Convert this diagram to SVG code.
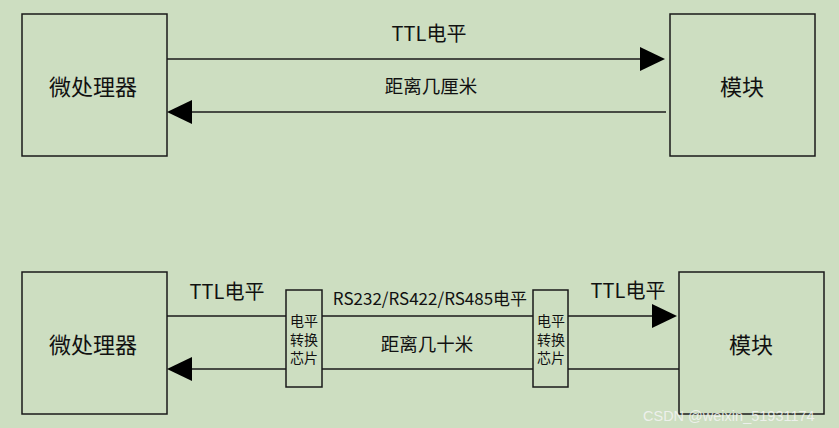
<svg xmlns="http://www.w3.org/2000/svg" width="839" height="428" viewBox="0 0 839 428">
<defs>
<style>
.box{fill:none;stroke:#1a1a1a;stroke-width:1.5}
.ln{fill:none;stroke:#1a1a1a;stroke-width:1.5}
.ah{fill:#000}
text{font-family:"Noto Sans CJK SC","Noto Sans",sans-serif;fill:#111;text-anchor:middle;dominant-baseline:central}
.big{font-size:22px}
.ttl{font-size:20px}
.lbl{font-size:18.5px}
.rs{font-size:17px}
.chip{font-size:14px}
.wm{font-family:"Liberation Sans",sans-serif;font-size:14.5px;fill:#f4f4f4;fill-opacity:0.85;text-anchor:start}
</style>
</defs>
<rect width="839" height="428" fill="#cddec1"/>
<g id="mcu1"><rect class="box" x="22" y="14" width="145" height="142"/><text class="big" x="93" y="85">微处理器</text></g>
<g id="mod1"><rect class="box" x="670" y="14" width="145" height="142"/><text class="big" x="742" y="85">模块</text></g>
<g id="mcu2"><rect class="box" x="22" y="272" width="145" height="142"/><text class="big" x="93" y="343">微处理器</text></g>
<g id="mod2"><rect class="box" x="679" y="272" width="145" height="142"/><text class="big" x="751" y="343">模块</text></g>
<g id="chip1"><rect class="box" x="286" y="290" width="36" height="97"/><text class="chip" x="304" y="320">电平<tspan x="304" dy="18.5">转换</tspan><tspan x="304" dy="18.5">芯片</tspan></text></g>
<g id="chip2"><rect class="box" x="533" y="290" width="35" height="97"/><text class="chip" x="551" y="320">电平<tspan x="551" dy="18.5">转换</tspan><tspan x="551" dy="18.5">芯片</tspan></text></g>
<g id="connectors">
<line class="ln" x1="167" y1="59" x2="642" y2="59"/><polygon class="ah" points="640,47 665,59 640,71"/>
<line class="ln" x1="190" y1="112" x2="666" y2="112"/><polygon class="ah" points="192,100 167,112 192,124"/>
<line class="ln" x1="167" y1="316" x2="286" y2="316"/>
<line class="ln" x1="322" y1="316" x2="533" y2="316"/>
<line class="ln" x1="568" y1="316" x2="655" y2="316"/><polygon class="ah" points="652,304 677,316 652,328"/>
<line class="ln" x1="190" y1="369" x2="286" y2="369"/><polygon class="ah" points="192,357 167,369 192,381"/>
<line class="ln" x1="322" y1="369" x2="533" y2="369"/>
<line class="ln" x1="568" y1="369" x2="679" y2="369"/>
</g>
<g id="labels">
<text class="ttl" x="429" y="32">TTL电平</text>
<text class="lbl" x="431" y="85">距离几厘米</text>
<text class="ttl" x="227" y="290">TTL电平</text>
<text class="rs" x="430" y="297">RS232/RS422/RS485电平</text>
<text class="lbl" x="427" y="343">距离几十米</text>
<text class="ttl" x="628" y="289">TTL电平</text>
<text class="wm" x="643" y="416">CSDN @weixin_51931174</text>
</g>
</svg>
